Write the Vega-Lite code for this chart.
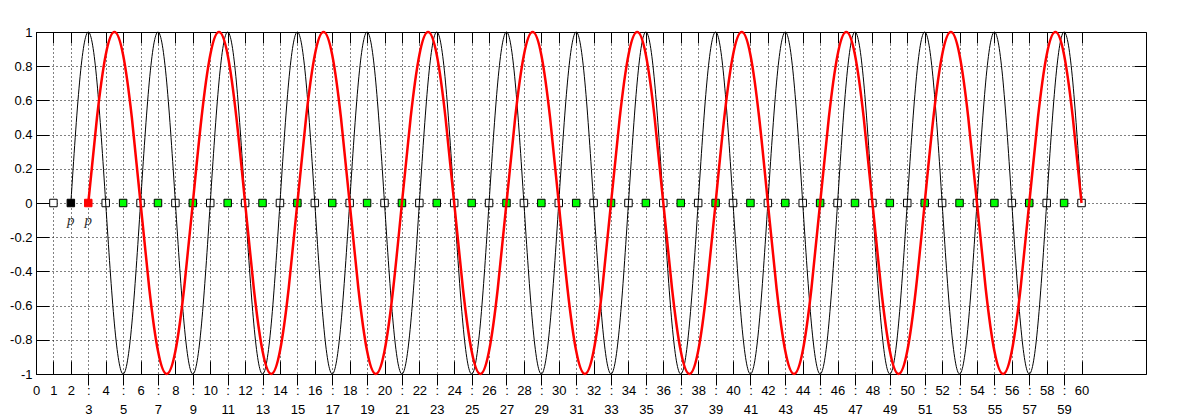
{
  "$schema": "https://vega.github.io/schema/vega-lite/v6.json",
  "width": 1110,
  "height": 342,
  "autosize": {"type": "none"},
  "padding": {"left": 36, "top": 32, "right": 54, "bottom": 46},
  "background": "white",
  "config": {
    "view": {"stroke": "black", "strokeWidth": 1},
    "axis": {"labelFont": "Liberation Sans", "labelFontSize": 13, "labelColor": "black", "tickColor": "black", "tickWidth": 1, "domain": false, "title": null, "labelFlush": false, "labelOverlap": false, "labelBound": false, "gridColor": "black", "gridDash": [1, 3], "gridOpacity": 1, "gridWidth": 1}
  },
  "datasets": {
    "marks": [
      {"x":1,"k":"w"},{"x":2,"k":"b"},{"x":3,"k":"r"},{"x":4,"k":"w"},{"x":5,"k":"g"},{"x":6,"k":"w"},{"x":7,"k":"g"},{"x":8,"k":"w"},{"x":9,"k":"g"},{"x":10,"k":"w"},
      {"x":11,"k":"g"},{"x":12,"k":"w"},{"x":13,"k":"g"},{"x":14,"k":"w"},{"x":15,"k":"g"},{"x":16,"k":"w"},{"x":17,"k":"g"},{"x":18,"k":"w"},{"x":19,"k":"g"},{"x":20,"k":"w"},
      {"x":21,"k":"g"},{"x":22,"k":"w"},{"x":23,"k":"g"},{"x":24,"k":"w"},{"x":25,"k":"g"},{"x":26,"k":"w"},{"x":27,"k":"g"},{"x":28,"k":"w"},{"x":29,"k":"g"},{"x":30,"k":"w"},
      {"x":31,"k":"g"},{"x":32,"k":"w"},{"x":33,"k":"g"},{"x":34,"k":"w"},{"x":35,"k":"g"},{"x":36,"k":"w"},{"x":37,"k":"g"},{"x":38,"k":"w"},{"x":39,"k":"g"},{"x":40,"k":"w"},
      {"x":41,"k":"g"},{"x":42,"k":"w"},{"x":43,"k":"g"},{"x":44,"k":"w"},{"x":45,"k":"g"},{"x":46,"k":"w"},{"x":47,"k":"g"},{"x":48,"k":"w"},{"x":49,"k":"g"},{"x":50,"k":"w"},
      {"x":51,"k":"g"},{"x":52,"k":"w"},{"x":53,"k":"g"},{"x":54,"k":"w"},{"x":55,"k":"g"},{"x":56,"k":"w"},{"x":57,"k":"g"},{"x":58,"k":"w"},{"x":59,"k":"g"},{"x":60,"k":"w"}
    ],
    "black": [
      {"x":2,"y":0},{"x":2.5,"y":0.7071},{"x":3,"y":1},{"x":3.5,"y":0.7071},{"x":4,"y":0},{"x":4.5,"y":-0.7071},{"x":5,"y":-1},{"x":5.5,"y":-0.7071},
      {"x":6,"y":0},{"x":6.5,"y":0.7071},{"x":7,"y":1},{"x":7.5,"y":0.7071},{"x":8,"y":0},{"x":8.5,"y":-0.7071},{"x":9,"y":-1},{"x":9.5,"y":-0.7071},
      {"x":10,"y":0},{"x":10.5,"y":0.7071},{"x":11,"y":1},{"x":11.5,"y":0.7071},{"x":12,"y":0},{"x":12.5,"y":-0.7071},{"x":13,"y":-1},{"x":13.5,"y":-0.7071},
      {"x":14,"y":0},{"x":14.5,"y":0.7071},{"x":15,"y":1},{"x":15.5,"y":0.7071},{"x":16,"y":0},{"x":16.5,"y":-0.7071},{"x":17,"y":-1},{"x":17.5,"y":-0.7071},
      {"x":18,"y":0},{"x":18.5,"y":0.7071},{"x":19,"y":1},{"x":19.5,"y":0.7071},{"x":20,"y":0},{"x":20.5,"y":-0.7071},{"x":21,"y":-1},{"x":21.5,"y":-0.7071},
      {"x":22,"y":0},{"x":22.5,"y":0.7071},{"x":23,"y":1},{"x":23.5,"y":0.7071},{"x":24,"y":0},{"x":24.5,"y":-0.7071},{"x":25,"y":-1},{"x":25.5,"y":-0.7071},
      {"x":26,"y":0},{"x":26.5,"y":0.7071},{"x":27,"y":1},{"x":27.5,"y":0.7071},{"x":28,"y":0},{"x":28.5,"y":-0.7071},{"x":29,"y":-1},{"x":29.5,"y":-0.7071},
      {"x":30,"y":0},{"x":30.5,"y":0.7071},{"x":31,"y":1},{"x":31.5,"y":0.7071},{"x":32,"y":0},{"x":32.5,"y":-0.7071},{"x":33,"y":-1},{"x":33.5,"y":-0.7071},
      {"x":34,"y":0},{"x":34.5,"y":0.7071},{"x":35,"y":1},{"x":35.5,"y":0.7071},{"x":36,"y":0},{"x":36.5,"y":-0.7071},{"x":37,"y":-1},{"x":37.5,"y":-0.7071},
      {"x":38,"y":0},{"x":38.5,"y":0.7071},{"x":39,"y":1},{"x":39.5,"y":0.7071},{"x":40,"y":0},{"x":40.5,"y":-0.7071},{"x":41,"y":-1},{"x":41.5,"y":-0.7071},
      {"x":42,"y":0},{"x":42.5,"y":0.7071},{"x":43,"y":1},{"x":43.5,"y":0.7071},{"x":44,"y":0},{"x":44.5,"y":-0.7071},{"x":45,"y":-1},{"x":45.5,"y":-0.7071},
      {"x":46,"y":0},{"x":46.5,"y":0.7071},{"x":47,"y":1},{"x":47.5,"y":0.7071},{"x":48,"y":0},{"x":48.5,"y":-0.7071},{"x":49,"y":-1},{"x":49.5,"y":-0.7071},
      {"x":50,"y":0},{"x":50.5,"y":0.7071},{"x":51,"y":1},{"x":51.5,"y":0.7071},{"x":52,"y":0},{"x":52.5,"y":-0.7071},{"x":53,"y":-1},{"x":53.5,"y":-0.7071},
      {"x":54,"y":0},{"x":54.5,"y":0.7071},{"x":55,"y":1},{"x":55.5,"y":0.7071},{"x":56,"y":0},{"x":56.5,"y":-0.7071},{"x":57,"y":-1},{"x":57.5,"y":-0.7071},
      {"x":58,"y":0},{"x":58.5,"y":0.7071},{"x":59,"y":1},{"x":59.5,"y":0.7071},{"x":60,"y":0}
    ],
    "red": [
      {"x":3,"y":0},{"x":3.5,"y":0.5},{"x":4,"y":0.866},{"x":4.5,"y":1},{"x":5,"y":0.866},{"x":5.5,"y":0.5},{"x":6,"y":0},{"x":6.5,"y":-0.5},{"x":7,"y":-0.866},{"x":7.5,"y":-1},{"x":8,"y":-0.866},{"x":8.5,"y":-0.5},
      {"x":9,"y":0},{"x":9.5,"y":0.5},{"x":10,"y":0.866},{"x":10.5,"y":1},{"x":11,"y":0.866},{"x":11.5,"y":0.5},{"x":12,"y":0},{"x":12.5,"y":-0.5},{"x":13,"y":-0.866},{"x":13.5,"y":-1},{"x":14,"y":-0.866},{"x":14.5,"y":-0.5},
      {"x":15,"y":0},{"x":15.5,"y":0.5},{"x":16,"y":0.866},{"x":16.5,"y":1},{"x":17,"y":0.866},{"x":17.5,"y":0.5},{"x":18,"y":0},{"x":18.5,"y":-0.5},{"x":19,"y":-0.866},{"x":19.5,"y":-1},{"x":20,"y":-0.866},{"x":20.5,"y":-0.5},
      {"x":21,"y":0},{"x":21.5,"y":0.5},{"x":22,"y":0.866},{"x":22.5,"y":1},{"x":23,"y":0.866},{"x":23.5,"y":0.5},{"x":24,"y":0},{"x":24.5,"y":-0.5},{"x":25,"y":-0.866},{"x":25.5,"y":-1},{"x":26,"y":-0.866},{"x":26.5,"y":-0.5},
      {"x":27,"y":0},{"x":27.5,"y":0.5},{"x":28,"y":0.866},{"x":28.5,"y":1},{"x":29,"y":0.866},{"x":29.5,"y":0.5},{"x":30,"y":0},{"x":30.5,"y":-0.5},{"x":31,"y":-0.866},{"x":31.5,"y":-1},{"x":32,"y":-0.866},{"x":32.5,"y":-0.5},
      {"x":33,"y":0},{"x":33.5,"y":0.5},{"x":34,"y":0.866},{"x":34.5,"y":1},{"x":35,"y":0.866},{"x":35.5,"y":0.5},{"x":36,"y":0},{"x":36.5,"y":-0.5},{"x":37,"y":-0.866},{"x":37.5,"y":-1},{"x":38,"y":-0.866},{"x":38.5,"y":-0.5},
      {"x":39,"y":0},{"x":39.5,"y":0.5},{"x":40,"y":0.866},{"x":40.5,"y":1},{"x":41,"y":0.866},{"x":41.5,"y":0.5},{"x":42,"y":0},{"x":42.5,"y":-0.5},{"x":43,"y":-0.866},{"x":43.5,"y":-1},{"x":44,"y":-0.866},{"x":44.5,"y":-0.5},
      {"x":45,"y":0},{"x":45.5,"y":0.5},{"x":46,"y":0.866},{"x":46.5,"y":1},{"x":47,"y":0.866},{"x":47.5,"y":0.5},{"x":48,"y":0},{"x":48.5,"y":-0.5},{"x":49,"y":-0.866},{"x":49.5,"y":-1},{"x":50,"y":-0.866},{"x":50.5,"y":-0.5},
      {"x":51,"y":0},{"x":51.5,"y":0.5},{"x":52,"y":0.866},{"x":52.5,"y":1},{"x":53,"y":0.866},{"x":53.5,"y":0.5},{"x":54,"y":0},{"x":54.5,"y":-0.5},{"x":55,"y":-0.866},{"x":55.5,"y":-1},{"x":56,"y":-0.866},{"x":56.5,"y":-0.5},
      {"x":57,"y":0},{"x":57.5,"y":0.5},{"x":58,"y":0.866},{"x":58.5,"y":1},{"x":59,"y":0.866},{"x":59.5,"y":0.5},{"x":60,"y":0}
    ],
    "labels": [{"x":2,"t":"p"},{"x":3,"t":"p"}]
  },
  "resolve": {"axis": {"x": "independent", "y": "independent"}},
  "layer": [
    {
      "data": {"name": "marks"},
      "mark": {"type": "point", "shape": "square", "filled": true, "size": 56, "strokeWidth": 1, "opacity": 1},
      "encoding": {
        "x": {"field": "x", "type": "quantitative", "scale": {"domain": [0, 63.7], "nice": false, "zero": false},
          "axis": {"orient": "bottom", "values": [0,1,2,4,6,8,10,12,14,16,18,20,22,24,26,28,30,32,34,36,38,40,42,44,46,48,50,52,54,56,58,60], "tickSize": -13, "labelPadding": 23, "grid": true}},
        "y": {"datum": 0, "type": "quantitative", "scale": {"domain": [-1, 1], "nice": false, "zero": false},
          "axis": {"orient": "left", "values": [-1,-0.8,-0.6,-0.4,-0.2,0,0.2,0.4,0.6,0.8,1], "tickSize": -13, "labelPadding": 17, "labelExpr": "toString(round(datum.value*10)/10)", "grid": true}},
        "fill": {"field": "k", "type": "nominal", "scale": {"domain": ["w","b","r","g"], "range": ["#ffffff","#000000","#ff0000","#00ff00"]}, "legend": null},
        "stroke": {"field": "k", "type": "nominal", "scale": {"domain": ["w","b","r","g"], "range": ["#000000","#000000","#ff0000","#000000"]}, "legend": null}
      }
    },
    {
      "data": {"name": "black"},
      "mark": {"type": "line", "interpolate": "natural", "color": "#000000", "strokeWidth": 1},
      "encoding": {
        "x": {"field": "x", "type": "quantitative", "scale": {"domain": [0, 63.7], "nice": false, "zero": false},
          "axis": {"orient": "bottom", "values": [3,5,7,9,11,13,15,17,19,21,23,25,27,29,31,33,35,37,39,41,43,45,47,49,51,53,55,57,59], "tickSize": 11, "labelPadding": -1, "labelExpr": "[':', datum.label]", "labelLineHeight": 19, "grid": true}},
        "y": {"field": "y", "type": "quantitative", "scale": {"domain": [-1, 1], "nice": false, "zero": false}, "axis": null}
      }
    },
    {
      "data": {"name": "red"},
      "mark": {"type": "line", "interpolate": "natural", "color": "#ff0000", "strokeWidth": 2.5},
      "encoding": {
        "x": {"field": "x", "type": "quantitative", "scale": {"domain": [0, 63.7], "nice": false, "zero": false},
          "axis": {"orient": "top", "values": [0,1,2,3,4,5,6,7,8,9,10,11,12,13,14,15,16,17,18,19,20,21,22,23,24,25,26,27,28,29,30,31,32,33,34,35,36,37,38,39,40,41,42,43,44,45,46,47,48,49,50,51,52,53,54,55,56,57,58,59,60], "tickSize": -11, "labels": false, "grid": false}},
        "y": {"field": "y", "type": "quantitative", "scale": {"domain": [-1, 1], "nice": false, "zero": false},
          "axis": {"orient": "right", "values": [-1,-0.8,-0.6,-0.4,-0.2,0,0.2,0.4,0.6,0.8,1], "tickSize": -12, "labels": false, "grid": false}}
      }
    },
    {
      "data": {"name": "labels"},
      "mark": {"type": "text", "font": "Liberation Serif", "fontStyle": "italic", "fontSize": 15, "color": "#333333", "baseline": "alphabetic", "align": "center", "dy": 22},
      "encoding": {
        "x": {"field": "x", "type": "quantitative", "scale": {"domain": [0, 63.7], "nice": false, "zero": false}, "axis": null},
        "y": {"datum": 0, "type": "quantitative", "scale": {"domain": [-1, 1], "nice": false, "zero": false}, "axis": null},
        "text": {"field": "t", "type": "nominal"}
      }
    }
  ]
}
